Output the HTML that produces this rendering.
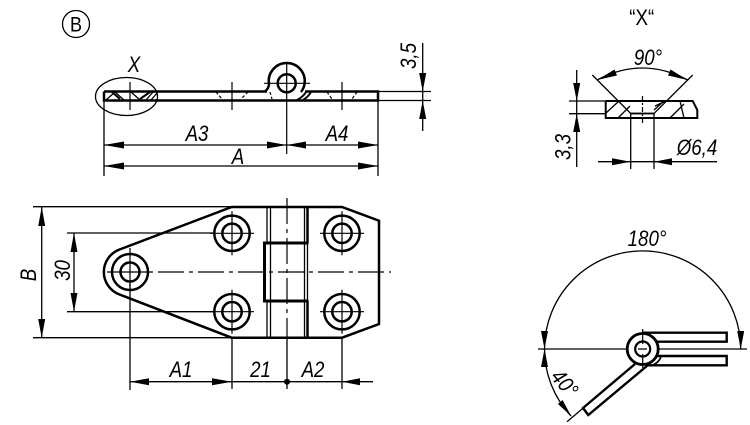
<!DOCTYPE html>
<html><head><meta charset="utf-8"><style>
html,body{margin:0;padding:0;background:#fff}
svg{display:block}
text{font-family:"Liberation Sans",sans-serif;font-style:italic;font-size:22px;fill:#000;text-anchor:middle}
.k{stroke:#000;stroke-width:2.5;fill:none}
.t{stroke:#000;stroke-width:1.3;fill:none}
.c{stroke:#000;stroke-width:1.2;fill:none}
.a{fill:#000;stroke:none}
</style></head><body>
<svg width="750" height="425" viewBox="0 0 750 425" xmlns="http://www.w3.org/2000/svg">
<defs>
<g id="hole"><circle r="17.7" class="k"/><circle r="9.7" class="k"/><path class="c" d="M-22 0H22M0 -22V22"/></g>
</defs>

<!-- circled B -->
<circle cx="76" cy="24" r="13.5" class="t"/>
<text transform="translate(76 31.5) scale(.82 .95)" style="font-style:normal">B</text>

<!-- TOP VIEW -->
<path class="k" d="M104 91.5V100.5H378V91.5H305M104 91.5H267"/>
<path class="k" d="M269 84A18 18 0 1 1 304.5 84Q304 88 301 92M269 84Q269 88 265 91.5"/>
<path class="k" d="M297 100Q303 97 306 92M303 100Q308 97 311 92" style="stroke-width:2"/>
<circle cx="286.7" cy="83.3" r="9" class="k"/>
<path class="c" d="M264 83.3H310M286.7 62V154"/>
<ellipse cx="126.5" cy="96.5" rx="31" ry="19" class="t"/>
<path class="k" d="M112 92L120 99M140 99L150 92" style="stroke-width:2"/>
<path class="t" d="M106 100L115 92L124 100M131 92L140 100M146 100L153 92M151 100L158 92"/>
<path class="c" d="M130 82V110M232 82V110M342 82V110"/>
<path class="c" stroke-dasharray="3 2" d="M216 92L222 99M248 92L241 99M270 92L272 99M327 92L332 99M357 92L352 99"/>
<path class="t" d="M104 100V176M378 100V176M104 145H378M104 166H378"/>
<path class="a" d="M104 145L124 141.5V148.5ZM286.7 145L267 141.5V148.5ZM286.7 145L306 141.5V148.5ZM378 145L358 141.5V148.5ZM104 166L124 162.5V169.5ZM378 166L358 162.5V169.5Z"/>
<path class="t" d="M378 91.5H431M378 100.5H431M422.7 43V131"/>
<path class="a" d="M422.7 91.5L419.2 73H426.2ZM422.7 100.5L419.2 119H426.2Z"/>

<text transform="translate(134 72) scale(.85 1)">X</text>
<text transform="translate(197 141) scale(.85 1)">A3</text>
<text transform="translate(337 141) scale(.85 1)">A4</text>
<text transform="translate(238 164) scale(.85 1)">A</text>
<text transform="translate(416 56) rotate(-90) scale(.85 1)">3,5</text>

<!-- PLAN VIEW -->
<path class="k" d="M231.7 207H342L379 220.7V324L342 337.7H231.7L119.5 294.5A24 24 0 0 1 119.5 249.5Z"/>
<path class="k" d="M308.5 243H264.5V301H308.5" style="stroke-width:3"/>
<path class="t" d="M267 207V243M270.5 207V337M304.5 207V337M267 301V338M307.5 243V301"/>
<path class="k" d="M307.5 207V243M307.5 301V338"/>
<g transform="translate(130 272)"><circle r="18" class="k"/><circle r="9.5" class="k"/><path class="c" d="M-23 0H23M0 -24V14"/></g>
<use href="#hole" x="232" y="233.3"/><use href="#hole" x="342" y="233.3"/>
<use href="#hole" x="232" y="311.7"/><use href="#hole" x="342" y="311.7"/>
<path class="c" stroke-dasharray="26 5 4 5" d="M158 272H391"/>
<path class="c" stroke-dasharray="26 5 4 5" d="M287 198V338"/>
<path class="t" d="M33 206.7H232M33 337.7H232M67 233H215M67 311.7H215M41.7 207V337.7M74 233V311.7"/>
<path class="a" d="M41.7 207L38.2 226H45.2ZM41.7 337.7L38.2 319H45.2ZM74 233L70.5 252H77.5ZM74 311.7L70.5 293H77.5Z"/>
<path class="t" d="M130 284V390M232 338V389M287 338V389M342 338V389M130 381.7H373"/>
<path class="a" d="M130 381.7L149 378.2V385.2ZM232 381.7L212 378.2V385.2ZM342 381.7L360 378.2V385.2Z"/>
<circle cx="287" cy="381.7" r="3" class="a"/>
<text transform="translate(36 275) rotate(-90) scale(.85 1)">B</text>
<text transform="translate(70 270.5) rotate(-90) scale(.85 1)">30</text>
<text transform="translate(181 377) scale(.85 1)">A1</text>
<text transform="translate(260.5 377) scale(.85 1)">21</text>
<text transform="translate(313 377) scale(.85 1)">A2</text>

<!-- DETAIL X -->
<text transform="translate(641.7 25) scale(.85 1)" style="font-style:normal">“X“</text>
<path class="k" d="M605.7 101V118H697.3V110L692.7 101H605.7" style="stroke-width:2"/>
<path class="t" d="M592.3 75L630.7 113.5H654L692.7 75"/>
<path class="k" d="M630.7 113.5H654" style="stroke-width:1.8"/>
<path class="t" d="M630.7 113.5V169M654 113.5V169"/>
<path class="t" d="M606 113L619 101M618 118L630 106M655 106L666 101M670 118L684 104M680 101L684 118M654 110L664 101"/>
<path class="c" stroke-dasharray="5 2 2 2" d="M642.5 96V124"/>
<path class="t" d="M569 101H606M569 113.7H606M576.7 70V167M598 161.7H717"/>
<path class="a" d="M576.7 101L573.2 83H580.2ZM576.7 113.7L573.2 132H580.2ZM630.7 161.7L612 158.2V165.2ZM654 161.7L672 158.2V165.2Z"/>
<path class="t" d="M597 80Q642.5 56 687.7 80"/>
<path class="a" d="M597 80L614.5 69.5L617 75.5ZM687.7 80L670.5 69.5L668 75.5Z"/>
<text transform="translate(648 65) scale(.85 1)">90°</text>
<text transform="translate(570.7 147) rotate(-90) scale(.85 1)">3,3</text>
<text transform="translate(697 155) scale(.85 1)">Ø6,4</text>

<!-- ROTATION VIEW -->
<path class="k" d="M642 332.7H726.7V341.7H656M656 356H726.7V365.3H646" style="stroke-width:2.4"/>
<path class="k" d="M650 366Q658 364 661 357" style="stroke-width:1.6"/>
<path class="k" d="M635 364L583 408L588.3 415L648 365" style="stroke-width:2.4"/>
<circle cx="642.7" cy="349" r="15.5" class="k" style="fill:#fff;stroke-width:2.8"/>
<circle cx="642.7" cy="349" r="7.5" class="k" style="stroke-width:2.2"/>
<path class="c" d="M642.7 329V344M642.7 354V368M638 349H647"/>
<path class="t" d="M538 349H627M658 349H747M544.5 349A98 98 0 0 1 740.7 349M544.5 349A98 98 0 0 0 571 416M567 421.7L588 404"/>
<path class="a" d="M544.5 349L541 331H548ZM740.7 349L737.2 331H744.2ZM544.5 349L541 367H548ZM571.5 416.5L558 404L562.5 400Z"/>
<text transform="translate(647 246) scale(.85 1)">180°</text>
<text transform="translate(559 388) rotate(50) scale(.85 1)">40°</text>
</svg>
</body></html>
